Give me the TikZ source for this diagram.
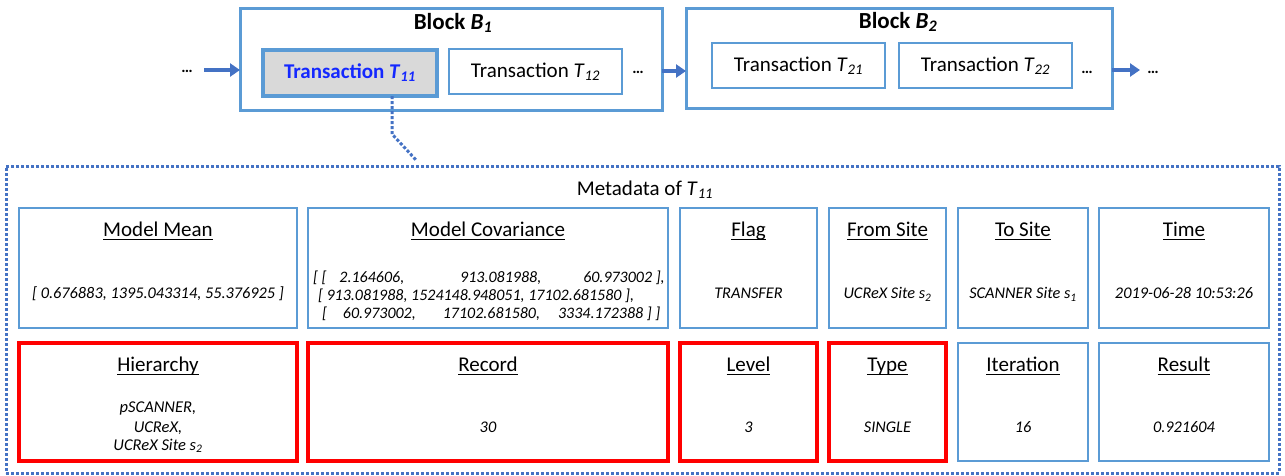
\documentclass[tikz,border=0pt]{standalone}
\usepackage{fontspec}
\setmainfont{Carlito}
\usetikzlibrary{arrows.meta}

\definecolor{boxblue}{RGB}{91,155,213}
\definecolor{arrowblue}{RGB}{68,114,196}
\definecolor{dotblue}{RGB}{68,114,196}
\definecolor{hilite}{RGB}{255,0,0}
\definecolor{txgray}{RGB}{217,217,217}
\definecolor{txblue}{RGB}{20,40,255}

% italic subscript
\newcommand{\isub}[1]{\textsubscript{\textit{#1}}}
% heading with a Word-style underline
\newcommand{\hd}[1]{\setbox0\hbox{#1}\rlap{\rule[-3.5pt]{\wd0}{1.4pt}}\box0}
% one metadata cell: name, x, y, width, height, style, heading, value
\newcommand{\metacell}[8]{%
  \node[#6, minimum width=#4pt, minimum height=#5pt] (#1) at (#2,#3) {};
  \node[head] (#1-h) at ([yshift=-28.5pt]#1.north) {\hd{#7}};
  \node[val] (#1-v) at ([yshift=-30.5pt]#1.center) {#8};
}

\begin{document}
\begin{tikzpicture}[x=1pt,y=-1pt,
  every node/.style={inner sep=0pt, outer sep=0pt},
  blockbox/.style={draw=boxblue, line width=3pt},
  txbox/.style={draw=boxblue, line width=2pt, font=\fontsize{21}{25}\selectfont},
  selbox/.style={draw=boxblue, line width=4pt, fill=txgray, text=txblue,
    font=\bfseries\fontsize{21}{25}\selectfont},
  blocktitle/.style={font=\bfseries\fontsize{23}{27}\selectfont},
  dots/.style={anchor=base, font=\bfseries\fontsize{16}{18}\selectfont},
  flow/.style={draw=arrowblue, line width=3.5pt, -{Triangle[length=10pt,width=13pt]}},
  dotline/.style={draw=dotblue, line width=3pt, dash pattern=on 3pt off 2pt},
  cell/.style={draw=boxblue, line width=2.5pt},
  keycell/.style={draw=hilite, line width=4.5pt},
  head/.style={anchor=base, font=\fontsize{21}{25}\selectfont},
  val/.style={anchor=base, font=\itshape\fontsize{16.3}{18}\selectfont},
]
\useasboundingbox (0,0) rectangle (1285,475);

% ---- chain of blocks ----
\node[blockbox, minimum width=422pt, minimum height=102pt] (B1) at (451,59) {};
\node[blocktitle] (B1t) at (453,23) {Block \textit{B}\isub{1}};
\node[selbox, minimum width=174pt, minimum height=46pt] (T11) at (350,73)
  {Transaction \textit{T}\isub{11}};
\node[txbox, minimum width=173pt, minimum height=45pt] (T12) at (535.5,71.5)
  {Transaction \textit{T}\isub{12}};
\node[dots] (d1) at (638,73) {…};

\node[blockbox, minimum width=426pt, minimum height=100pt] (B2) at (899,58) {};
\node[blocktitle] (B2t) at (898,22) {Block \textit{B}\isub{2}};
\node[txbox, minimum width=173pt, minimum height=45pt] (T21) at (798.5,65.5)
  {Transaction \textit{T}\isub{21}};
\node[txbox, minimum width=173pt, minimum height=45pt] (T22) at (985.5,65.5)
  {Transaction \textit{T}\isub{22}};
\node[dots] (d2) at (1087,73) {…};

\node[dots] (d0) at (187,72) {…};
\node[dots] (d3) at (1153,73) {…};

\coordinate (a0) at (204,70);
\coordinate (rowy) at (0,71);
\coordinate (a3) at (1140,70);
\draw[flow] (a0) -- (a0 -| B1.west);
\draw[flow] (B1.east |- rowy) -- (B2.west |- rowy);
\draw[flow] (B2.east |- a3) -- (a3);

% ---- metadata panel ----
\node[dotline, minimum width=1273pt, minimum height=307pt] (meta) at (642.5,319.5) {};
\coordinate (k1) at (392,134);
\coordinate (k2) at (416,160);
\draw[dotline] (T11.south -| k1) -- (k1) -- (k2);

\node[font=\fontsize{21}{25}\selectfont] (mt) at (645,190) {Metadata of \textit{T}\isub{11}};

\metacell{mean}{158}{268}{278}{120}{cell}{Model Mean}{[ 0.676883, 1395.043314, 55.376925 ]}
\metacell{cov}{488}{268}{360}{120}{cell}{Model Covariance}{}
\node[anchor=west, align=left, font=\itshape\fontsize{16}{18}\selectfont] (cov-m) at (313,296)
  {[ [\hspace{13pt}2.164606,\hspace{56pt}913.081988,\hspace{42pt}60.973002 ],\\
   \hspace*{5pt}[ 913.081988, 1524148.948051, 17102.681580 ],\\
   \hspace*{9pt}[\hspace{16pt}60.973002,\hspace{27pt}17102.681580,\hspace{18pt}3334.172388 ] ]};
\metacell{flag}{748.5}{268}{137}{120}{cell}{Flag}{TRANSFER}
\metacell{from}{887.5}{268}{117}{120}{cell}{From Site}{UCReX Site s\textsubscript{2}}
\metacell{to}{1023}{268}{130}{120}{cell}{To Site}{SCANNER Site s\textsubscript{1}}
\metacell{time}{1184}{268}{170}{120}{cell}{Time}{2019-06-28 10:53:26}

\metacell{hier}{158}{402}{278}{118}{keycell}{Hierarchy}{}
\node[align=center, font=\itshape\fontsize{16.5}{17.5}\selectfont] (hier-m) at (158,427)
  {pSCANNER,\\[3pt] UCReX,\\ UCReX Site s\textsubscript{2}};
\metacell{rec}{488}{402}{360}{118}{keycell}{Record}{30}
\metacell{lvl}{748.5}{402}{137}{118}{keycell}{Level}{3}
\metacell{typ}{887.5}{402}{117}{118}{keycell}{Type}{SINGLE}
\metacell{iter}{1023}{402}{130}{118}{cell}{Iteration}{16}
\metacell{res}{1184}{402}{170}{118}{cell}{Result}{0.921604}
\end{tikzpicture}
\end{document}
